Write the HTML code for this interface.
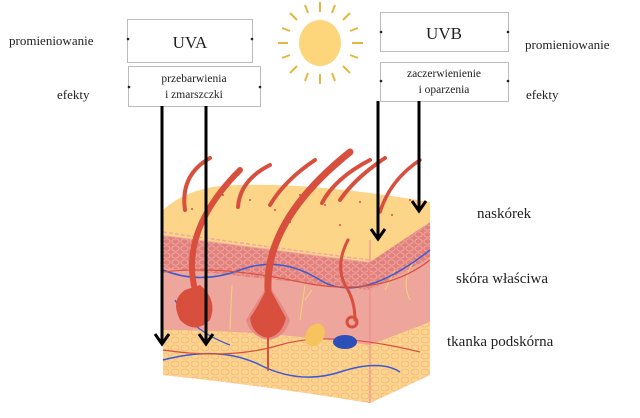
<!DOCTYPE html>
<html><head><meta charset="utf-8"><style>
body{margin:0;background:#fff;width:640px;height:418px;overflow:hidden}
svg{display:block}
text{font-family:"Liberation Serif",serif;fill:#222}
</style></head><body>
<svg width="640" height="418" viewBox="0 0 640 418" xmlns="http://www.w3.org/2000/svg">
<defs>
<pattern id="cells" width="9" height="7" patternUnits="userSpaceOnUse">
<rect width="9" height="7" fill="#e2807c"/>
<ellipse cx="4.5" cy="3.5" rx="3.6" ry="2.7" fill="none" stroke="#f2aaa6" stroke-width="0.9"/>
</pattern>
<pattern id="fat" width="10" height="8" patternUnits="userSpaceOnUse">
<rect width="10" height="8" fill="#fdd589"/>
<ellipse cx="5" cy="4" rx="4" ry="3" fill="none" stroke="#f3b58c" stroke-width="0.8"/>
</pattern>
</defs>
<text x="9" y="45" font-size="13">promieniowanie</text>
<text x="57" y="99" font-size="13">efekty</text>
<text x="525" y="49" font-size="13">promieniowanie</text>
<text x="526" y="99" font-size="13">efekty</text>
<g fill="#fff" stroke="#bbb" stroke-width="1">
<rect x="127.5" y="19.5" width="125" height="43"/>
<rect x="128.5" y="66.5" width="132" height="40"/>
<rect x="380.5" y="12.5" width="128" height="39"/>
<rect x="380.5" y="62.5" width="128" height="39"/>
</g>
<g fill="#222">
<circle cx="128" cy="39" r="1.3"/><circle cx="252" cy="39" r="1.3"/>
<circle cx="129" cy="87" r="1.3"/><circle cx="260" cy="87" r="1.3"/>
<circle cx="381" cy="32" r="1.3"/><circle cx="508" cy="32" r="1.3"/>
<circle cx="381" cy="81" r="1.3"/><circle cx="508" cy="81" r="1.3"/>
</g>
<text x="190" y="48" font-size="17" text-anchor="middle">UVA</text>
<text x="194" y="82" font-size="11.5" text-anchor="middle">przebarwienia</text>
<text x="194" y="98" font-size="11.5" text-anchor="middle">i zmarszczki</text>
<text x="444" y="39" font-size="17" text-anchor="middle">UVB</text>
<text x="444" y="77" font-size="11.5" text-anchor="middle">zaczerwienienie</text>
<text x="444" y="93" font-size="11.5" text-anchor="middle">i oparzenia</text>
<ellipse cx="320" cy="43" rx="21" ry="23" fill="#fdd57a"/>
<g stroke="#e7b542" stroke-width="2">
<line x1="278" y1="43" x2="288" y2="43"/><line x1="352" y1="43" x2="363" y2="43"/>
<line x1="320" y1="2" x2="320" y2="12"/><line x1="320" y1="74" x2="320" y2="84"/>
<line x1="290" y1="13" x2="297" y2="20"/><line x1="343" y1="66" x2="350" y2="73"/>
<line x1="350" y1="13" x2="343" y2="20"/><line x1="297" y1="66" x2="290" y2="73"/>
<line x1="305" y1="5" x2="308" y2="13"/><line x1="335" y1="5" x2="332" y2="13"/>
<line x1="305" y1="81" x2="308" y2="73"/><line x1="335" y1="81" x2="332" y2="73"/>
<line x1="282" y1="28" x2="290" y2="31"/><line x1="358" y1="28" x2="350" y2="31"/>
<line x1="282" y1="58" x2="290" y2="55"/><line x1="358" y1="58" x2="350" y2="55"/>
</g>
<!-- right face -->
<polygon points="370,240 430,202 430,375 370,403" fill="#eea59c"/>
<polygon points="370,262 430,222 430,258 370,290" fill="url(#cells)"/>
<polygon points="370,240 430,202 430,222 370,262" fill="#fdd589"/>
<polygon points="370,345 430,322 430,375 370,403" fill="url(#fat)"/>
<!-- top face -->
<path d="M163,210 Q185,190 220,186 Q300,180 430,202 L370,240 Q260,225 163,210 Z" fill="#fdd589"/>
<g fill="#d94f3e"><circle cx="192" cy="209" r="1"/><circle cx="223" cy="195" r="1"/><circle cx="250" cy="200" r="1"/><circle cx="275" cy="210" r="1"/><circle cx="300" cy="195" r="1"/><circle cx="325" cy="205" r="1"/><circle cx="360" cy="202" r="1"/><circle cx="392" cy="215" r="1"/><circle cx="410" cy="200" r="1"/><circle cx="290" cy="222" r="1"/><circle cx="340" cy="225" r="1"/></g>
<!-- front face -->
<path d="M163,210 Q260,225 370,240 L370,403 Q260,385 163,375 Z" fill="#eea59c"/>
<path d="M163,210 Q260,225 370,240 L370,262 Q260,248 163,235 Z" fill="#fdd589"/>
<path d="M163,232 Q260,246 370,260" fill="none" stroke="#f0a8a0" stroke-width="1.5" stroke-dasharray="4 2"/>
<path d="M163,236 Q260,249 370,263 L370,290 Q260,278 163,268 Z" fill="url(#cells)"/>
<path d="M163,330 Q260,330 370,345 L370,403 Q260,385 163,375 Z" fill="url(#fat)"/>
<line x1="370" y1="240" x2="370" y2="403" stroke="#e88" stroke-width="1"/>
<!-- thin yellow nerves -->
<g fill="none" stroke="#f7d07a" stroke-width="1">
<path d="M230,330 L232,285"/><path d="M300,320 L305,285 M305,300 L312,290"/><path d="M410,300 Q400,280 415,260"/><path d="M385,290 L395,270"/>
</g>
<path d="M163,270 Q200,285 240,270 T320,280 T430,250" fill="none" stroke="#3a5bd1" stroke-width="1.5"/>
<path d="M163,272 Q220,265 300,282 T430,260" fill="none" stroke="#d8503e" stroke-width="1.2"/>
<path d="M163,360 Q220,345 260,365 T340,372 T400,372" fill="none" stroke="#3a5bd1" stroke-width="1.5"/>
<path d="M163,350 Q230,360 280,345 T420,352" fill="none" stroke="#d8503e" stroke-width="1.2"/>
<path d="M175,300 Q190,330 230,345" fill="none" stroke="#3a5bd1" stroke-width="1.3"/>
<path d="M185,290 Q170,300 180,320 Q195,335 210,320 Q218,300 200,285 Z" fill="#d94f3e"/>
<path d="M246,320 Q258,300 268,285 Q280,300 290,320 Q285,338 268,340 Q250,336 246,320 Z" fill="#e58a84"/>
<path d="M250,318 Q262,300 268,285 Q276,300 286,318 Q282,335 268,338 Q252,335 250,318 Z" fill="#d94f3e"/>
<g fill="none" stroke="#d94f3e" stroke-linecap="round">
<path d="M195,290 Q180,230 240,170" stroke-width="6"/>
<path d="M268,290 Q265,220 350,152" stroke-width="7"/>
<path d="M185,210 Q180,175 210,158" stroke-width="4"/>
<path d="M238,207 Q240,180 270,165" stroke-width="4"/>
<path d="M270,205 Q285,180 315,160" stroke-width="4"/>
<path d="M322,203 Q335,178 370,160" stroke-width="4"/>
<path d="M340,200 Q355,178 385,158" stroke-width="4"/>
<path d="M380,212 Q390,180 420,160" stroke-width="3.5"/>
<path d="M348,240 Q335,265 345,285 Q355,300 355,320" stroke-width="3"/>
<path d="M268,338 L268,370" stroke-width="2"/>
</g>
<ellipse cx="315" cy="335" rx="9" ry="12" fill="#f6c35c" transform="rotate(30 315 335)"/>
<ellipse cx="345" cy="342" rx="12" ry="7" fill="#2d4fb8"/>
<circle cx="352" cy="322" r="5" fill="none" stroke="#d94f3e" stroke-width="3"/>
<g stroke="#000" stroke-width="3" fill="none">
<line x1="162" y1="106" x2="162" y2="343"/>
<line x1="206" y1="106" x2="206" y2="343"/>
<line x1="378" y1="101" x2="378" y2="238"/>
<line x1="419" y1="101" x2="419" y2="210"/>
<polyline points="155,334 162,344 169,334"/>
<polyline points="199,334 206,344 213,334"/>
<polyline points="371,229 378,239 385,229"/>
<polyline points="412,201 419,211 426,201"/>
</g>
<text x="477" y="218" font-size="15">naskórek</text>
<text x="456" y="283" font-size="15">skóra właściwa</text>
<text x="447" y="346" font-size="15">tkanka podskórna</text>
</svg>
</body></html>
